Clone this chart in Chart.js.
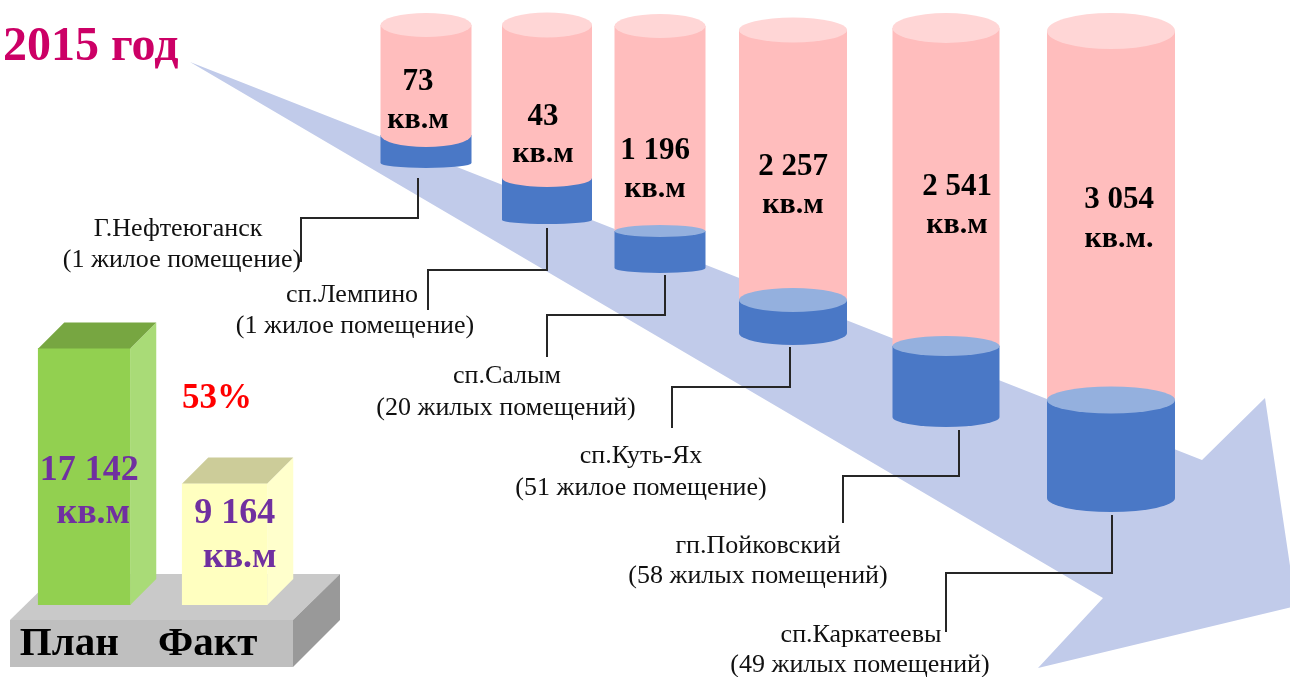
<!DOCTYPE html>
<html lang="ru">
<head>
<meta charset="utf-8">
<title>2015 год</title>
<script src="https://cdn.jsdelivr.net/npm/chart.js@4.4.1/dist/chart.umd.min.js"></script>
<style>
  html, body { margin: 0; padding: 0; background: #fff; }
  #wrap { position: relative; width: 1290px; height: 677px; overflow: hidden; }
  #main-chart { position: absolute; left: 0; top: 0; }
  #plan-chart { position: absolute; left: 0; top: 290px; }
</style>
</head>
<body>
<div id="wrap">
  <canvas id="main-chart" width="1290" height="677"></canvas>
  <canvas id="plan-chart" width="350" height="387"></canvas>
</div>
<script>
// Settlements, dwellings and areas
const settlements = ['Г.Нефтеюганск', 'сп.Лемпино', 'сп.Салым', 'сп.Куть-Ях', 'гп.Пойковский', 'сп.Каркатеевы'];
const dwellings = ['(1 жилое помещение)', '(1 жилое помещение)', '(20 жилых помещений)', '(51 жилое помещение)', '(58 жилых помещений)', '(49 жилых помещений)'];
const areaValues = [73, 43, 1196, 2257, 2541, 3054];
const areaUnits = ['кв.м', 'кв.м', 'кв.м', 'кв.м', 'кв.м', 'кв.м.'];

// Cylinder levels (vertical units, 0 = top)
const cylTop = [25, 25, 26, 30, 28, 31];
const cylFill = [135, 178, 231, 300, 346, 400];
const cylBase = [163, 220, 268, 333, 417, 498];

// Plan / fact totals
const totalLabels = ['План', 'Факт'];
const totalValues = [17142, 9164];
const percentDone = 53;
const yearTitle = '2015 год';

// Layout (horizontal units match the vertical ones)
const cylLayout = {
  x: [426, 547, 660, 793, 946, 1111],
  width: [91, 90, 91, 108, 107, 128],
  topRy: [12, 12.5, 12, 12.5, 15, 18],
  fillRy: [12, 9, 6, 12, 10, 13.5],
  baseRy: [5, 4, 5, 12, 10, 14],
  fillCap: [false, false, true, true, true, true],
  valueX: [418, 543, 655, 793, 957, 1119],
  valueY: [90, 125, 159, 175, 195, 208],
  unitY: [128, 162, 197, 213, 233, 247],
  // [startX, startY, elbowY, endX, endY]
  leader: [
    [418, 178, 218, 301, 262],
    [547, 228, 270, 428, 310],
    [665, 275, 315, 547, 357],
    [790, 347, 387, 672, 428],
    [959, 430, 476, 843, 523],
    [1112, 515, 573, 946, 632],
  ],
  // [nameX, nameY, countX, countY]
  label: [
    [178, 236, 182, 267],
    [352, 302, 355, 333],
    [507, 383, 506, 415],
    [641, 463, 641, 495],
    [758, 553, 758, 583],
    [861, 642, 860, 672],
  ],
};
const arrowShape = [[190, 62], [1202, 460], [1265, 398], [1296, 606], [1038, 668], [1103, 598]];

const SERIF = '"Liberation Serif", "Times New Roman", serif';

function formatNumber(n) {
  return String(n).replace(/\B(?=(\d{3})+(?!\d))/g, ' ');
}

// Draws the arrow, cylinders, leader lines and labels
const cylinderPlugin = {
  id: 'cylinders',
  beforeDatasetsDraw(chart) {
    const { ctx, scales: { x, y } } = chart;
    ctx.save();
    ctx.fillStyle = '#c1cbea';
    ctx.beginPath();
    arrowShape.forEach(([px, py], i) => {
      const X = x.getPixelForValue(px);
      const Y = y.getPixelForValue(py);
      if (i === 0) ctx.moveTo(X, Y); else ctx.lineTo(X, Y);
    });
    ctx.closePath();
    ctx.fill();

    ctx.fillStyle = '#cc0066';
    ctx.font = 'bold 48px ' + SERIF;
    ctx.textAlign = 'left';
    ctx.textBaseline = 'alphabetic';
    ctx.fillText(yearTitle, x.getPixelForValue(3), y.getPixelForValue(60));
    ctx.restore();
  },
  afterDatasetsDraw(chart) {
    const { ctx, scales: { x, y } } = chart;
    const bars = chart.getDatasetMeta(0).data;
    ctx.save();
    bars.forEach((bar, i) => {
      const cx = bar.x;
      const hw = x.getPixelForValue(cylLayout.x[i] + cylLayout.width[i] / 2) - cx;
      const yTop = y.getPixelForValue(cylTop[i]);
      const yFill = y.getPixelForValue(cylFill[i]);
      const yBase = y.getPixelForValue(cylBase[i]);

      // blue part
      ctx.fillStyle = '#4a78c6';
      ctx.beginPath();
      ctx.moveTo(cx - hw, yFill);
      ctx.lineTo(cx + hw, yFill);
      ctx.lineTo(cx + hw, yBase);
      ctx.ellipse(cx, yBase, hw, cylLayout.baseRy[i], 0, 0, Math.PI);
      ctx.closePath();
      ctx.fill();

      // pink part
      ctx.fillStyle = '#ffbdbd';
      ctx.beginPath();
      ctx.moveTo(cx - hw, yTop);
      ctx.lineTo(cx + hw, yTop);
      ctx.lineTo(cx + hw, yFill);
      if (cylLayout.fillCap[i]) {
        ctx.lineTo(cx - hw, yFill);
      } else {
        ctx.ellipse(cx, yFill, hw, cylLayout.fillRy[i], 0, 0, Math.PI);
      }
      ctx.closePath();
      ctx.fill();

      if (cylLayout.fillCap[i]) {
        ctx.fillStyle = '#94b0de';
        ctx.beginPath();
        ctx.ellipse(cx, yFill, hw, cylLayout.fillRy[i], 0, 0, Math.PI * 2);
        ctx.fill();
      }

      ctx.fillStyle = '#ffd6d6';
      ctx.beginPath();
      ctx.ellipse(cx, yTop, hw, cylLayout.topRy[i], 0, 0, Math.PI * 2);
      ctx.fill();

      // value text
      ctx.fillStyle = '#000';
      ctx.textAlign = 'center';
      ctx.textBaseline = 'alphabetic';
      ctx.font = 'bold 31px ' + SERIF;
      const vx = x.getPixelForValue(cylLayout.valueX[i]);
      ctx.fillText(formatNumber(areaValues[i]), vx, y.getPixelForValue(cylLayout.valueY[i]));
      ctx.font = 'bold 30px ' + SERIF;
      ctx.fillText(areaUnits[i], vx, y.getPixelForValue(cylLayout.unitY[i]));

      // leader line
      const [sx, sy, ey, exx, eyy] = cylLayout.leader[i];
      ctx.strokeStyle = '#262626';
      ctx.lineWidth = 2;
      ctx.beginPath();
      ctx.moveTo(x.getPixelForValue(sx), y.getPixelForValue(sy));
      ctx.lineTo(x.getPixelForValue(sx), y.getPixelForValue(ey));
      ctx.lineTo(x.getPixelForValue(exx), y.getPixelForValue(ey));
      ctx.lineTo(x.getPixelForValue(exx), y.getPixelForValue(eyy));
      ctx.stroke();

      // settlement label
      const [nx, ny, dx, dy] = cylLayout.label[i];
      ctx.fillStyle = '#111';
      ctx.font = '26px ' + SERIF;
      ctx.fillText(settlements[i], x.getPixelForValue(nx), y.getPixelForValue(ny));
      ctx.fillText(dwellings[i], x.getPixelForValue(dx), y.getPixelForValue(dy));
    });
    ctx.restore();
  },
};

new Chart(document.getElementById('main-chart'), {
  type: 'bar',
  data: {
    labels: settlements,
    datasets: [
      {
        label: 'Площадь, кв.м',
        data: settlements.map((_, i) => ({ x: cylLayout.x[i], y: [cylTop[i], cylBase[i]] })),
        backgroundColor: 'rgba(0,0,0,0)',
      },
      {
        label: 'Заполнение',
        data: settlements.map((_, i) => ({ x: cylLayout.x[i], y: [cylFill[i], cylBase[i]] })),
        backgroundColor: 'rgba(0,0,0,0)',
      },
    ],
  },
  options: {
    responsive: false,
    animation: false,
    layout: { padding: 0 },
    datasets: { bar: { grouped: false } },
    scales: {
      x: { type: 'linear', min: 0, max: 1290, offset: false, bounds: 'data', display: false },
      y: { min: 0, max: 677, reverse: true, display: false },
    },
    plugins: { legend: { display: false }, tooltip: { enabled: false } },
  },
  plugins: [cylinderPlugin],
});

// Plan / fact 3D boxes
const boxLayout = {
  depth: 26,
  top: ['#77a641', '#cccc99'],
  side: ['#a9db77', '#ffffcc'],
  numDx: [5, 10], numDy: [132, 39],
  unitDx: [9, 15], unitDy: [175, 83],
  labelDx: [-15, -17],
};

const boxPlugin = {
  id: 'boxes',
  beforeDatasetsDraw(chart) {
    const { ctx } = chart;
    ctx.save();
    // platform
    ctx.fillStyle = '#c9c9c9';
    ctx.beginPath();
    ctx.moveTo(10, 330); ctx.lineTo(57, 284); ctx.lineTo(340, 284); ctx.lineTo(293, 330);
    ctx.closePath(); ctx.fill();
    ctx.fillStyle = '#bfbfbf';
    ctx.fillRect(10, 330, 283, 47);
    ctx.fillStyle = '#999999';
    ctx.beginPath();
    ctx.moveTo(293, 330); ctx.lineTo(340, 284); ctx.lineTo(340, 330); ctx.lineTo(293, 377);
    ctx.closePath(); ctx.fill();
    ctx.restore();
  },
  afterDatasetsDraw(chart) {
    const { ctx, chartArea } = chart;
    const d = boxLayout.depth;
    ctx.save();
    [0, 1].forEach((k) => {
      const bar = chart.getDatasetMeta(k).data[k];
      const x0 = bar.x - bar.width / 2;
      const x1 = bar.x + bar.width / 2;
      const yt = bar.y;
      const yb = Math.min(bar.base, chartArea.bottom);
      ctx.fillStyle = boxLayout.side[k];
      ctx.beginPath();
      ctx.moveTo(x1, yt); ctx.lineTo(x1 + d, yt - d); ctx.lineTo(x1 + d, yb - d); ctx.lineTo(x1, yb);
      ctx.closePath(); ctx.fill();
      ctx.fillStyle = boxLayout.top[k];
      ctx.beginPath();
      ctx.moveTo(x0, yt); ctx.lineTo(x0 + d, yt - d); ctx.lineTo(x1 + d, yt - d); ctx.lineTo(x1, yt);
      ctx.closePath(); ctx.fill();

      ctx.fillStyle = '#7030a0';
      ctx.textAlign = 'center';
      ctx.textBaseline = 'alphabetic';
      ctx.font = 'bold 36px ' + SERIF;
      ctx.fillText(formatNumber(totalValues[k]), bar.x + boxLayout.numDx[k], yt + boxLayout.numDy[k]);
      ctx.fillText('кв.м', bar.x + boxLayout.unitDx[k], yt + boxLayout.unitDy[k]);

      ctx.fillStyle = '#000';
      ctx.font = 'bold 41px ' + SERIF;
      ctx.fillText(totalLabels[k], bar.x + boxLayout.labelDx[k], 365);
    });
    ctx.fillStyle = '#ff0000';
    ctx.font = 'bold 35px ' + SERIF;
    ctx.fillText(percentDone + '%', 217, 118);
    ctx.restore();
  },
};

new Chart(document.getElementById('plan-chart'), {
  type: 'bar',
  data: {
    labels: totalLabels,
    datasets: [
      { label: totalLabels[0], data: [totalValues[0], null], backgroundColor: '#92d050', barThickness: 92 },
      { label: totalLabels[1], data: [null, totalValues[1]], backgroundColor: '#ffffc0', barThickness: 85 },
    ],
  },
  options: {
    responsive: false,
    animation: false,
    layout: { padding: { left: 14, right: 55, top: 10, bottom: 72 } },
    datasets: { bar: { grouped: false } },
    scales: {
      x: { display: false },
      y: { min: 2000, max: 20000, display: false },
    },
    plugins: { legend: { display: false }, tooltip: { enabled: false } },
  },
  plugins: [boxPlugin],
});
</script>
</body>
</html>
